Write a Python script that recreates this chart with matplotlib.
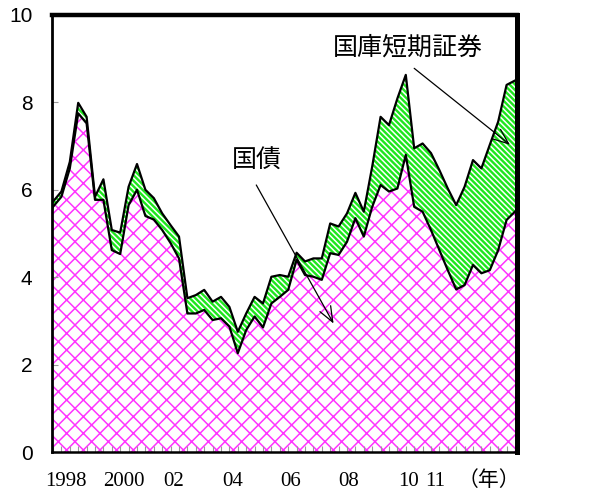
import numpy as np
import matplotlib
matplotlib.use("Agg")
import matplotlib.pyplot as plt

# Quarterly observations, 1998Q1 .. 2011Q4 (56 points)
quarters = np.arange(56)
bonds = [5.61, 5.84, 6.49, 7.75, 7.52, 5.77, 5.77, 4.62, 4.53, 5.65,
         6.00, 5.40, 5.32, 5.08, 4.78, 4.43, 3.17, 3.17, 3.25, 3.02,
         3.06, 2.87, 2.26, 2.79, 3.10, 2.85, 3.40, 3.55, 3.71, 4.40,
         4.05, 4.01, 3.94, 4.55, 4.51, 4.81, 5.35, 4.93, 5.61, 6.11,
         5.96, 6.03, 6.80, 5.61, 5.50, 5.08, 4.62, 4.16, 3.72, 3.82,
         4.28, 4.09, 4.16, 4.62, 5.31, 5.50]
tbills = [0.12, 0.12, 0.15, 0.24, 0.15, 0.07, 0.47, 0.46, 0.49, 0.42,
          0.59, 0.60, 0.49, 0.38, 0.41, 0.50, 0.35, 0.42, 0.46, 0.42,
          0.49, 0.45, 0.49, 0.38, 0.45, 0.55, 0.61, 0.50, 0.30, 0.16,
          0.31, 0.42, 0.49, 0.68, 0.65, 0.65, 0.58, 0.57, 0.92, 1.56,
          1.52, 2.06, 1.83, 1.34, 1.56, 1.76, 1.83, 1.87, 1.93, 2.25,
          2.40, 2.40, 2.87, 2.94, 3.09, 3.00]
year_labels = ["1998", "2000", "02", "04", "06", "08", "10", "11"]
yticks = [0, 2, 4, 6, 8, 10]

plt.rcParams['hatch.linewidth'] = 1.1

W, H = 603, 490
fig = plt.figure(figsize=(W / 100, H / 100), dpi=100)
ax = fig.add_axes([52 / W, 38 / H, 465 / W, 437 / H])

x = quarters
b = np.array(bonds)
t = b + np.array(tbills)
zero = np.zeros_like(b)

# 国債 (pink cross hatch)
ax.fill(np.r_[x, x[::-1]], np.r_[b, zero[::-1]], facecolor='white',
        edgecolor='#ff33ff', hatch='xx', linewidth=0, zorder=1)
# 国庫短期証券 (green with white stripes)
ax.fill(np.r_[x, x[::-1]], np.r_[t, b[::-1]], facecolor='#1ee61e',
        edgecolor='white', hatch='\\' * 6, linewidth=0, zorder=1)
ax.plot(x, b, color='black', lw=1.6, zorder=3)
ax.plot(x, t, color='black', lw=1.6, zorder=3)

ax.set_xlim(-0.12, 55.24)
ax.set_ylim(0, 10)
ax.set_yticks(yticks)
ax.set_yticklabels([str(v) for v in yticks], fontsize=15,
                   family=['Liberation Sans', 'DejaVu Sans'])
ax.set_xticks(quarters)
ax.set_xticklabels([])
ax.tick_params(axis='y', direction='in', length=4, color='#999999', pad=14)
ax.tick_params(axis='x', direction='in', length=4, color='#999999', pad=2)

for side, lw in [('top', 3.2), ('right', 3.6), ('bottom', 1.8), ('left', 2.0)]:
    ax.spines[side].set_linewidth(lw)
    ax.spines[side].set_color('black')

# year labels (placed as in the reference, left-aligned)
lefts = [45, 103, 163, 222, 280, 338, 398, 425]
for lab, px in zip(year_labels, lefts):
    fig.text(px / W, (H - 481) / H, lab, ha='left', va='center', fontsize=15,
             family=['Liberation Serif', 'DejaVu Serif'])
fig.text(458 / W, (H - 480) / H, '（年）', ha='left', va='center', fontsize=15,
         family=['Noto Sans CJK JP', 'DejaVu Sans'])

cjk = ['Noto Sans CJK JP', 'DejaVu Sans']
ax.text(24.3, 6.67, '国債', ha='center', va='center', fontsize=18, family=cjk)
ax.text(42.2, 9.25, '国庫短期証券', ha='center', va='center', fontsize=18, family=cjk)

arrow = dict(arrowstyle='->,head_length=0.55,head_width=0.22', lw=0.9,
             color='black', mutation_scale=20, shrinkA=0, shrinkB=0)
ax.annotate('', xy=(33.4, 2.94), xytext=(24.2, 6.11), arrowprops=arrow, zorder=5)
ax.annotate('', xy=(54.4, 7.03), xytext=(43.0, 8.78), arrowprops=arrow, zorder=5)

fig.savefig('out.png', dpi=100)
